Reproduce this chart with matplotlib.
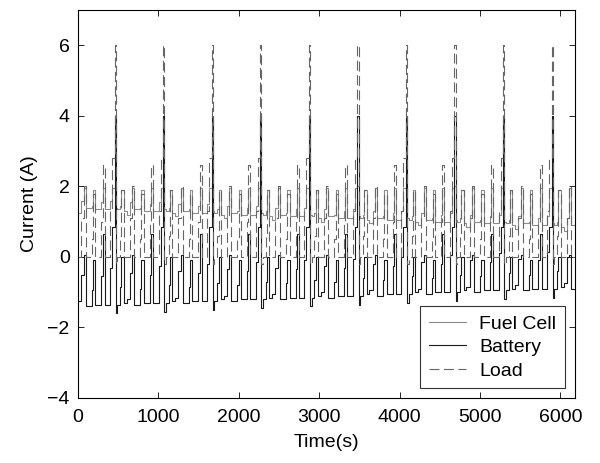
import numpy as np
import matplotlib
matplotlib.use("Agg")
import matplotlib.pyplot as plt

plt.rcParams['font.family'] = ['Liberation Sans', 'DejaVu Sans']

# one drive cycle (~604 s), step start times relative to cycle start
cycle_period = 604
step_t = [0, 40, 70, 95, 170, 185, 215, 290, 305, 330, 400, 425, 455, 470, 490, 525, 540, 570]
load_cycle = [0.0, 1.1, 2.0, 0.0, 0.5, 1.8, 0.0, 1.0, 2.6, 0.0, 1.3, 2.8, 6.0, -0.2, 0.0, 0.6, 1.9, 0.0]
fc_cycle = [1.25, 1.60, 1.95, 1.40, 1.45, 1.90, 1.35, 1.55, 1.95, 1.35, 1.60, 1.95, 2.00, 1.40, 1.35, 1.45, 1.90, 1.30]
batt_cycle = [-1.25, -0.50, 0.05, -1.40, -0.95, -0.10, -1.35, -0.55, 0.65, -1.35, -0.30, 0.85, 4.00, -1.60, -1.35, -0.85, 0.00, -1.30]

# slow drift of the fuel cell base level, one value per cycle
fc_drift = [0.0, -0.05, -0.10, -0.15, -0.20, -0.25, -0.30, -0.35, -0.40, -0.45, -0.50]

t_end = 6180


def build_series():
    t, load, fc, batt = [], [], [], []
    for k, d in enumerate(fc_drift):
        t0 = k * cycle_period
        for i, st in enumerate(step_t):
            if t0 + st > t_end:
                break
            low = fc_cycle[i] < 1.7
            t.append(t0 + st)
            load.append(load_cycle[i])
            fc.append(fc_cycle[i] + (d if low else 0.0))
            batt.append(batt_cycle[i] - (d if low else 0.0))
    t.append(t_end)
    load.append(load[-1])
    fc.append(fc[-1])
    batt.append(batt[-1])
    return np.array(t), np.array(load), np.array(fc), np.array(batt)


t, load, fc, batt = build_series()

fig = plt.figure(figsize=(6.0, 4.63), dpi=100)
ax = fig.add_axes([0.13, 0.1404, 0.828, 0.8376])

ax.plot(t, fc, drawstyle='steps-post', color='0.55', lw=0.8, label='Fuel Cell')
ax.plot(t, batt, drawstyle='steps-post', color='0.1', lw=0.8, label='Battery')
ax.plot(t, load, drawstyle='steps-post', color='0.4', lw=0.8, dashes=[9, 4], label='Load')

ax.set_xlim(0, t_end)
ax.set_ylim(-4, 7)
ax.set_xticks([0, 1000, 2000, 3000, 4000, 5000, 6000])
ax.set_yticks([-4, -2, 0, 2, 4, 6])
ax.tick_params(direction='in', top=True, right=True, labelsize=14, length=4, width=0.6)
ax.tick_params(axis='x', pad=8)
ax.tick_params(axis='y', pad=6)
for s in ax.spines.values():
    s.set_linewidth(0.8)

ax.set_xlabel('Time(s)', fontsize=14, labelpad=6)
ax.set_ylabel('Current (A)', fontsize=14, labelpad=7)

leg = ax.legend(loc='lower right', fontsize=14, fancybox=False, framealpha=1,
                edgecolor='0.2', borderaxespad=0.5, handlelength=1.9,
                labelspacing=0.3, borderpad=0.45, handletextpad=0.7)
leg.get_frame().set_linewidth(0.8)

fig.savefig('out.png', dpi=100)
